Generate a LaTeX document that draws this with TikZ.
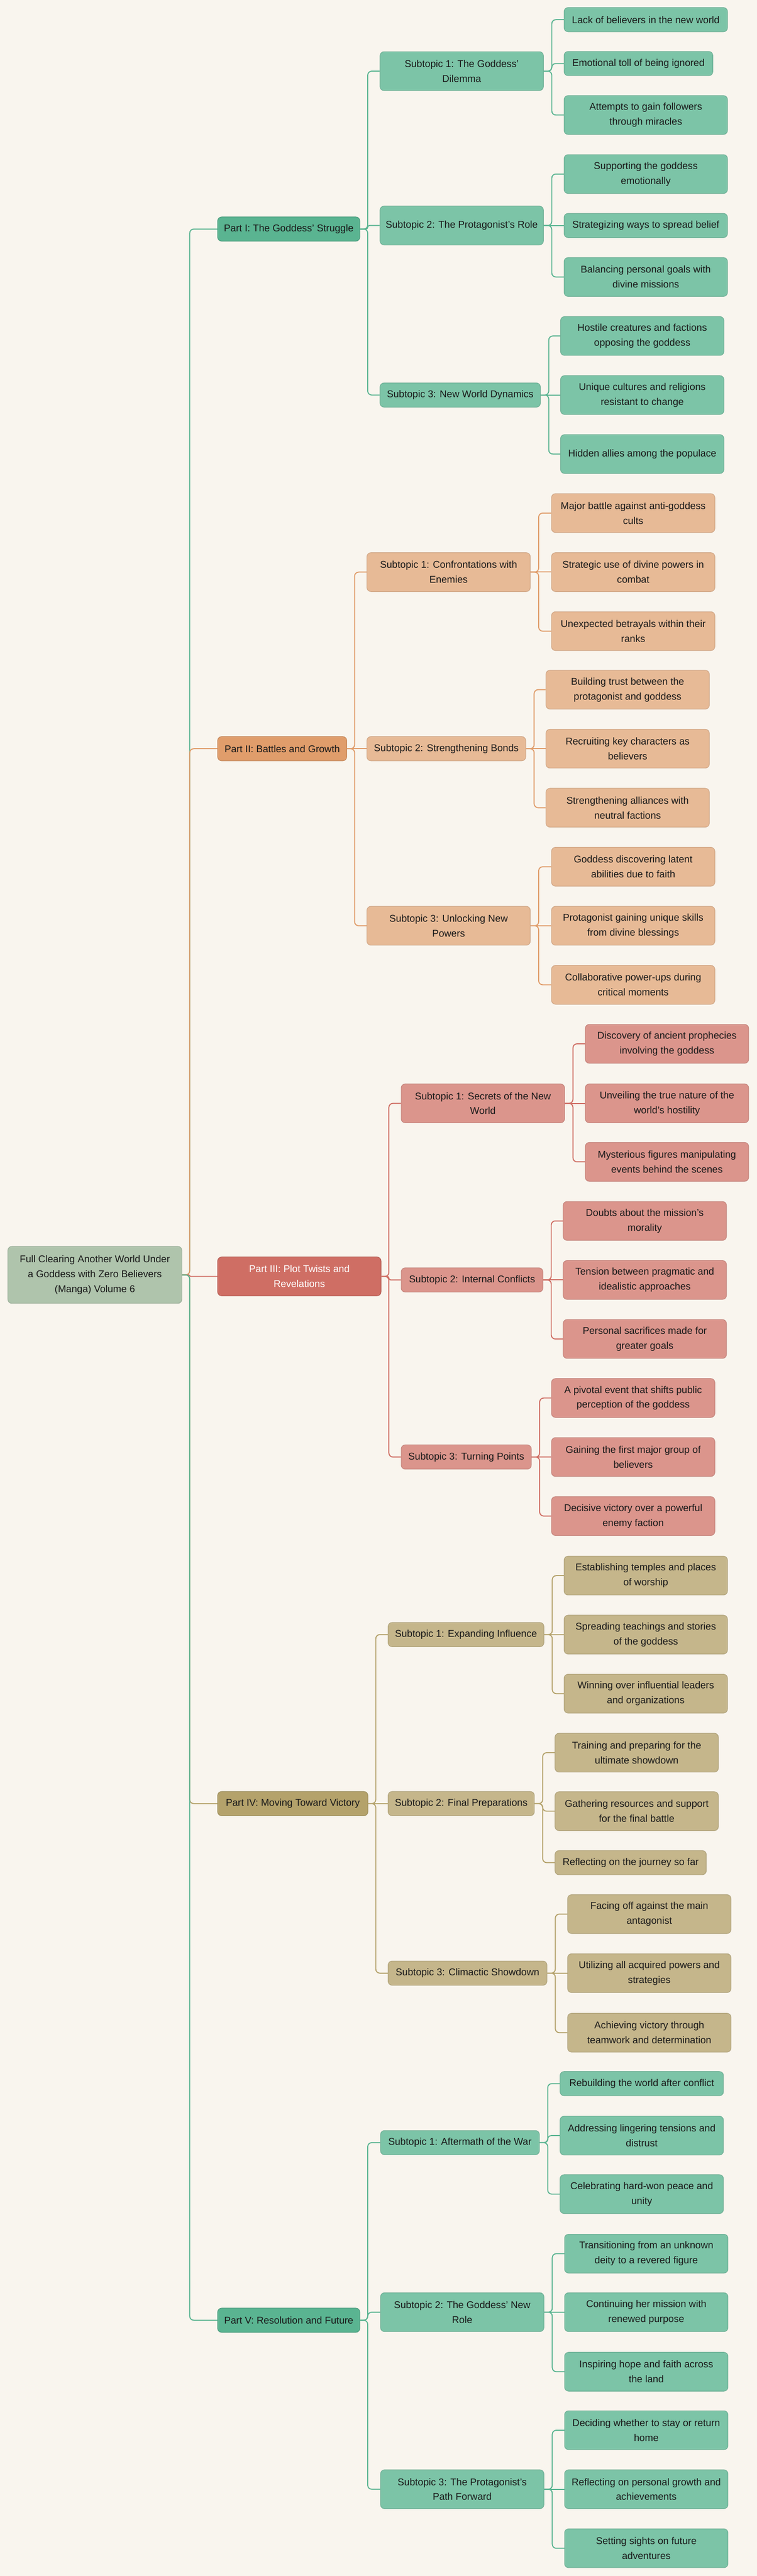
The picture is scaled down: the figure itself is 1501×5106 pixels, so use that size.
\documentclass[tikz,border=0pt]{standalone}
\usepackage{fontspec}
\setmainfont{Liberation Sans}
\usepackage{tikz}
\usetikzlibrary{calc}

\definecolor{bgc}{HTML}{F9F5EE}
\definecolor{txt}{HTML}{1A1A1A}
\definecolor{rootc}{HTML}{AFC4AC}
\definecolor{grnD}{HTML}{5AB491}
\definecolor{grnL}{HTML}{7CC4A7}
\definecolor{orgD}{HTML}{E09D6B}
\definecolor{orgL}{HTML}{E7BA96}
\definecolor{redD}{HTML}{CF6E64}
\definecolor{redL}{HTML}{DB958C}
\definecolor{tanD}{HTML}{B4A26B}
\definecolor{tanL}{HTML}{C5B68B}

\begin{document}
\begin{tikzpicture}[x=1pt, y=-1pt,
        base/.style={rounded corners=8pt, align=center, inner sep=0pt, anchor=west, line width=1.2pt,
            font=\fontsize{19.5}{29.5}\selectfont, text=txt},
        part/.style={base, fill=#1, draw=#1!88!black, minimum height=48pt},
        box/.style={base, fill=#1, draw=#1!90!black, minimum width=324pt, minimum height=77pt},
        one/.style={minimum height=48pt},
        lnk/.style={line width=2pt}]
        \fill [bgc] (0,0) rectangle (1501,5106);
        \useasboundingbox (0,0) rectangle (1501,5106);

        \node [base, fill=rootc, draw=rootc!90!black, minimum width=345pt, minimum height=113pt] (r) at (15,2527) {Full Clearing Another World Under\\a Goddess with Zero Believers\\(Manga) Volume 6};

        \node [part=grnD, minimum width=282pt] (p1) at (431,454) {Part I: The Goddess' Struggle};
        \node [part=orgD, minimum width=256pt] (p2) at (431,1484) {Part II: Battles and Growth};
        \node [part=redD, minimum width=324pt, minimum height=77pt, text=white] (p3) at (431,2530) {Part III: Plot Twists and\\Revelations};
        \node [part=tanD, minimum width=298pt] (p4) at (431,3575) {Part IV: Moving Toward Victory};
        \node [part=grnD, minimum width=282pt] (p5) at (431,4599) {Part V: Resolution and Future};

        \node [box=grnL] (s11) at (753,141) {Subtopic 1: The Goddess'\\Dilemma};
        \node [box=grnL] (s12) at (753,447) {Subtopic 2: The Protagonist's Role};
        \node [box=grnL, one, minimum width=318pt] (s13) at (753,783) {Subtopic 3: New World Dynamics};
        \node [box=grnL, one] (l111) at (1118,39) {Lack of believers in the new world};
        \node [box=grnL, one, minimum width=295pt] (l112) at (1118,126) {Emotional toll of being ignored};
        \node [box=grnL] (l113) at (1118,228) {Attempts to gain followers\\through miracles};
        \node [box=grnL] (l121) at (1118,345) {Supporting the goddess\\emotionally};
        \node [box=grnL, one] (l122) at (1118,447) {Strategizing ways to spread belief};
        \node [box=grnL] (l123) at (1118,549) {Balancing personal goals with\\divine missions};
        \node [box=grnL] (l131) at (1111,666) {Hostile creatures and factions\\opposing the goddess};
        \node [box=grnL] (l132) at (1111,783) {Unique cultures and religions\\resistant to change};
        \node [box=grnL] (l133) at (1111,900) {Hidden allies among the populace};

        \node [box=orgL] (s21) at (727,1134) {Subtopic 1: Confrontations with\\Enemies};
        \node [box=orgL, one, minimum width=315pt] (s22) at (727,1484) {Subtopic 2: Strengthening Bonds};
        \node [box=orgL] (s23) at (727,1835) {Subtopic 3: Unlocking New\\Powers};
        \node [box=orgL] (l211) at (1093,1017) {Major battle against anti-goddess\\cults};
        \node [box=orgL] (l212) at (1093,1134) {Strategic use of divine powers in\\combat};
        \node [box=orgL] (l213) at (1093,1251) {Unexpected betrayals within their\\ranks};
        \node [box=orgL] (l221) at (1082,1367) {Building trust between the\\protagonist and goddess};
        \node [box=orgL] (l222) at (1082,1484) {Recruiting key characters as\\believers};
        \node [box=orgL] (l223) at (1082,1601) {Strengthening alliances with\\neutral factions};
        \node [box=orgL] (l231) at (1093,1718) {Goddess discovering latent\\abilities due to faith};
        \node [box=orgL] (l232) at (1093,1835) {Protagonist gaining unique skills\\from divine blessings};
        \node [box=orgL] (l233) at (1093,1952) {Collaborative power-ups during\\critical moments};

        \node [box=redL] (s31) at (795,2187) {Subtopic 1: Secrets of the New\\World};
        \node [box=redL, one, minimum width=281pt] (s32) at (795,2537) {Subtopic 2: Internal Conflicts};
        \node [box=redL, one, minimum width=258pt] (s33) at (795,2888) {Subtopic 3: Turning Points};
        \node [box=redL] (l311) at (1160,2069) {Discovery of ancient prophecies\\involving the goddess};
        \node [box=redL] (l312) at (1160,2187) {Unveiling the true nature of the\\world’s hostility};
        \node [box=redL] (l313) at (1160,2303) {Mysterious figures manipulating\\events behind the scenes};
        \node [box=redL] (l321) at (1116,2420) {Doubts about the mission’s\\morality};
        \node [box=redL] (l322) at (1116,2537) {Tension between pragmatic and\\idealistic approaches};
        \node [box=redL] (l323) at (1116,2654) {Personal sacrifices made for\\greater goals};
        \node [box=redL] (l331) at (1093,2771) {A pivotal event that shifts public\\perception of the goddess};
        \node [box=redL] (l332) at (1093,2888) {Gaining the first major group of\\believers};
        \node [box=redL] (l333) at (1093,3005) {Decisive victory over a powerful\\enemy faction};

        \node [box=tanL, one, minimum width=309pt] (s41) at (769,3240) {Subtopic 1: Expanding Influence};
        \node [box=tanL, one, minimum width=290pt] (s42) at (769,3575) {Subtopic 2: Final Preparations};
        \node [box=tanL, one, minimum width=315pt] (s43) at (769,3911) {Subtopic 3: Climactic Showdown};
        \node [box=tanL] (l411) at (1118,3123) {Establishing temples and places\\of worship};
        \node [box=tanL] (l412) at (1118,3240) {Spreading teachings and stories\\of the goddess};
        \node [box=tanL] (l413) at (1118,3357) {Winning over influential leaders\\and organizations};
        \node [box=tanL] (l421) at (1100,3474) {Training and preparing for the\\ultimate showdown};
        \node [box=tanL] (l422) at (1100,3590) {Gathering resources and support\\for the final battle};
        \node [box=tanL, one, minimum width=300pt] (l423) at (1100,3692) {Reflecting on the journey so far};
        \node [box=tanL] (l431) at (1125,3794) {Facing off against the main\\antagonist};
        \node [box=tanL] (l432) at (1125,3911) {Utilizing all acquired powers and\\strategies};
        \node [box=tanL] (l433) at (1125,4029) {Achieving victory through\\teamwork and determination};

        \node [box=grnL, one, minimum width=315pt] (s51) at (754,4247) {Subtopic 1: Aftermath of the War};
        \node [box=grnL] (s52) at (754,4583) {Subtopic 2: The Goddess’ New\\Role};
        \node [box=grnL] (s53) at (754,4934) {Subtopic 3: The Protagonist’s\\Path Forward};
        \node [box=grnL, one] (l511) at (1110,4130) {Rebuilding the world after conflict};
        \node [box=grnL] (l512) at (1110,4233) {Addressing lingering tensions and\\distrust};
        \node [box=grnL] (l513) at (1110,4349) {Celebrating hard-won peace and\\unity};
        \node [box=grnL] (l521) at (1119,4467) {Transitioning from an unknown\\deity to a revered figure};
        \node [box=grnL] (l522) at (1119,4583) {Continuing her mission with\\renewed purpose};
        \node [box=grnL] (l523) at (1119,4701) {Inspiring hope and faith across\\the land};
        \node [box=grnL] (l531) at (1119,4817) {Deciding whether to stay or return\\home};
        \node [box=grnL] (l532) at (1119,4934) {Reflecting on personal growth and\\achievements};
        \node [box=grnL] (l533) at (1119,5051) {Setting sights on future\\adventures};

        \foreach \k/\c in {1/grnD, 2/orgD, 3/redD, 4/tanD, 5/grnD} {
            \draw [lnk, draw=\c] let \p1=(r.east), \p2=(p\k.west), \n1={min(8,abs(\y2-\y1)/2)} in
                [rounded corners=\n1] (\p1) -- ++(15,0) |- (\p2);
            \foreach \s in {1,2,3} {
                \draw [lnk, draw=\c] let \p1=(p\k.east), \p2=(s\k\s.west), \n1={min(8,abs(\y2-\y1)/2)} in
                    [rounded corners=\n1] (\p1) -- ++(15,0) |- (\p2);
                \foreach \l in {1,2,3}
                    \draw [lnk, draw=\c] let \p1=(s\k\s.east), \p2=(l\k\s\l.west), \n1={min(8,abs(\y2-\y1)/2)} in
                        [rounded corners=\n1] (\p1) -- ++(16,0) |- (\p2);
            }
        }
    \end{tikzpicture}
\end{document}
